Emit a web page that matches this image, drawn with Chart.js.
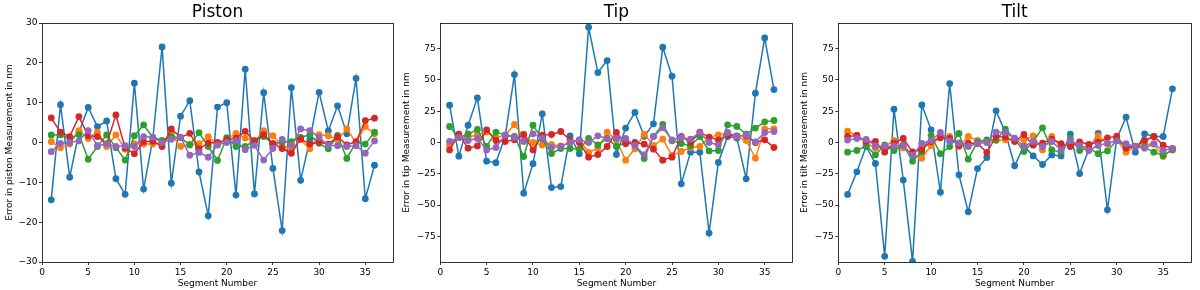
<!DOCTYPE html>
<html><head><meta charset="utf-8">
<script src="https://cdn.jsdelivr.net/npm/chart.js@4"></script>
<style>
body{margin:0;background:#fff;width:1200px;height:290px;overflow:hidden;position:relative}
canvas{position:absolute;top:0}
</style>
</head><body>
<canvas id="c1" width="400" height="290" style="left:0px"></canvas>
<canvas id="c2" width="400" height="290" style="left:397px"></canvas>
<canvas id="c3" width="405" height="290" style="left:795px"></canvas>
<script>
const segments = [1,2,3,4,5,6,7,8,9,10,11,12,13,14,15,16,17,18,19,20,21,22,23,24,25,26,27,28,29,30,31,32,33,34,35,36];
const xTicks = [0,5,10,15,20,25,30,35];
const pistonTicks = [-30,-20,-10,0,10,20,30];
const tipTicks = [-75,-50,-25,0,25,50,75];
const tiltTicks = [-75,-50,-25,0,25,50,75];

const pistonBlue   = [-14.4,9.5,-8.7,2.5,8.8,4.0,5.4,-9.1,-13.0,14.9,-11.7,1.0,24.0,-10.2,6.6,10.5,-7.4,-18.4,8.9,10.0,-13.2,18.4,-12.9,12.5,-6.5,-22.1,13.8,-9.5,0.7,12.6,2.9,9.2,2.2,16.1,-14.1,-5.7];
const pistonOrange = [0.2,-1.3,-0.4,3.0,1.0,2.6,-1.0,1.9,-1.7,-0.3,-0.4,-0.4,0.0,2.0,-1.0,-0.5,-0.3,1.5,-0.6,0.8,2.3,1.1,0.2,3.0,1.7,-0.8,-1.6,0.7,-1.6,2.0,1.7,0.7,3.4,0.0,4.0,2.2];
const pistonGreen  = [1.9,1.9,1.1,2.0,-4.2,-1.0,1.9,-1.3,-4.4,1.7,4.4,1.3,0.5,1.5,1.2,-0.6,2.5,-1.0,-4.5,1.2,-1.0,-1.0,0.5,1.5,-0.3,0.2,0.2,1.3,1.9,-0.2,-1.6,1.8,-4.0,0.1,-0.4,2.6];
const pistonRed    = [6.2,2.6,1.5,6.5,1.7,1.5,-0.3,6.9,-1.4,-2.8,0.2,0.3,-1.0,3.4,1.3,2.3,-1.6,-0.1,0.0,0.7,1.1,2.8,0.3,2.0,-0.3,-1.5,-2.7,0.9,-0.4,0.1,-0.4,1.4,-0.6,0.2,5.5,6.1];
const pistonPurple = [-2.3,-0.2,0.0,0.4,3.0,-0.8,-0.4,-1.0,-0.8,-1.0,1.5,1.3,0.0,0.8,1.3,-3.2,-2.5,-3.7,-0.6,0.0,0.4,-1.8,-0.7,-4.4,-1.5,0.8,-0.7,3.4,3.0,1.3,-0.7,-0.8,-1.0,-0.8,-2.7,0.4];

const tipBlue   = [29.8,-10.9,13.8,35.7,-14.9,-16.2,5.0,54.3,-40.5,-17.0,22.9,-36.0,-35.2,5.3,-9.0,92.1,55.9,65.5,-9.6,11.5,24.0,5.0,14.9,76.2,53.0,-33.0,-7.7,-7.7,-72.4,-16.0,4.8,3.5,-29.0,39.4,83.6,42.3];
const tipOrange = [-2.0,4.0,4.0,6.4,8.3,4.0,5.9,14.4,4.0,0.0,-1.9,-1.6,-2.7,0.0,2.1,-8.0,-4.5,8.3,2.0,-14.1,-5.0,6.7,-2.4,2.7,-10.4,-7.2,-4.0,-3.2,4.0,6.1,7.5,4.8,1.6,-12.5,10.9,10.9];
const tipGreen  = [12.8,4.0,6.7,10.4,-3.2,8.3,5.9,4.8,-11.2,13.8,2.7,-8.8,-4.8,-4.8,-5.3,3.2,-1.9,3.2,-3.2,0.0,-2.1,-12.8,4.8,14.4,1.3,-0.8,-2.7,4.8,-6.7,-6.4,14.1,12.8,6.7,11.5,16.5,17.6];
const tipRed    = [-5.9,6.7,-4.5,-2.7,10.1,1.6,0.8,2.1,6.4,-5.9,5.9,6.4,8.8,2.1,0.0,-11.7,-9.6,-3.2,8.0,-1.0,0.0,-1.3,-5.3,-14.1,-11.7,4.8,0.0,8.3,4.3,2.1,5.6,5.3,5.3,0.0,2.1,-4.0];
const tipPurple = [0.8,4.0,1.6,3.2,-5.9,-4.0,5.9,4.0,0.8,6.9,3.5,-4.0,-3.2,0.0,2.1,0.0,5.3,3.2,3.2,3.2,-2.4,-9.9,4.8,11.7,2.1,4.0,2.7,8.0,0.0,-1.9,8.0,4.8,5.9,0.5,8.0,8.8];

const tiltBlue   = [-41.5,-23.4,-3.2,-16.8,-91.0,26.6,-30.0,-95.0,30.0,10.1,-39.7,47.1,-25.8,-55.4,-20.8,-12.0,25.3,8.0,-18.6,-2.7,-10.7,-17.6,-9.9,-10.7,6.7,-24.8,-5.3,7.2,-53.8,3.0,20.2,-7.7,6.9,4.8,4.8,42.9];
const tiltOrange = [9.0,5.6,-0.5,-4.5,-3.2,1.6,-4.3,-9.0,-12.5,-2.4,4.8,4.8,-3.2,4.8,1.6,0.0,1.6,2.1,2.1,2.1,5.3,-5.9,4.8,-3.2,0.0,-2.1,-4.5,5.3,-1.3,2.1,-7.7,-3.2,-1.3,-1.3,-11.2,-5.0];
const tiltGreen  = [-7.7,-6.4,-2.7,-9.9,-1.9,-6.4,-1.9,-14.9,-7.5,5.6,-9.0,-3.2,7.2,-13.3,0.5,2.1,2.1,10.7,2.7,-7.2,0.8,11.7,-5.9,-7.7,3.5,-6.4,-4.5,-9.0,-6.7,1.6,-3.2,-3.2,-3.7,-7.7,-10.4,-5.9];
const tiltRed    = [4.8,5.6,0.8,0.8,-7.7,-0.5,3.2,-7.5,-5.6,0.8,3.7,3.2,-2.4,-0.5,-0.8,-8.0,4.8,4.3,0.8,6.4,-2.1,-0.5,2.7,-1.0,-3.2,0.5,-1.6,0.3,3.7,5.0,-4.5,-3.2,1.6,4.8,-2.1,-5.0];
const tiltPurple = [1.9,3.2,2.4,-2.7,-2.9,-2.7,-2.4,-10.4,-0.8,1.6,8.0,0.8,-0.3,-3.2,-0.8,0.0,8.3,8.0,3.5,-3.2,0.8,-3.2,0.8,-5.9,1.6,-2.4,-6.4,-2.4,-0.5,1.3,-1.0,-3.2,-4.5,-1.0,-6.4,-4.8];

const colors = ['#1f77b4','#ff7f0e','#2ca02c','#d62728','#9467bd'];
const FONT = '"DejaVu Sans", sans-serif';

const framePlugin = {
  id: 'frame',
  afterDraw(chart) {
    const {ctx, chartArea: a} = chart;
    ctx.save();
    ctx.strokeStyle = '#000';
    ctx.lineWidth = 0.8;
    ctx.strokeRect(Math.round(a.left)+0.5, Math.round(a.top)+0.5, Math.round(a.right-a.left), Math.round(a.bottom-a.top));
    ctx.restore();
  }
};

function fmt(v){ return v < 0 ? '\u2212' + Math.abs(v) : String(v); }

function makePanel(id, canvasLeft, canvasWidth, plotLeft, plotRight, title, ylabel, yMin, yMax, yTicks, series) {
  const datasets = series.map((vals, i) => ({
    data: segments.map((s, k) => ({x: s, y: vals[k]})),
    borderColor: colors[i],
    backgroundColor: colors[i],
    pointBackgroundColor: colors[i],
    pointBorderWidth: 0,
    pointRadius: 3.4,
    borderWidth: 1.5,
    tension: 0,
    clip: 0,
    order: 5 - i
  }));
  new Chart(document.getElementById(id), {
    type: 'line',
    data: {datasets},
    plugins: [framePlugin],
    options: {
      responsive: false,
      animation: false,
      events: [],
      layout: {padding: {left: 0, top: 0, bottom: 0, right: canvasWidth - (plotRight - canvasLeft)}},
      plugins: {
        legend: {display: false},
        tooltip: {enabled: false},
        title: {display: true, text: title, fullSize: false, color: '#000',
                font: {family: FONT, size: 17, weight: 'normal'}, padding: {top: 2, bottom: 0.6}}
      },
      scales: {
        x: {
          type: 'linear', min: 0, max: 38,
          afterBuildTicks: s => { s.ticks = xTicks.map(v => ({value: v})); },
          afterFit: s => { s.height = 28; },
          grid: {drawOnChartArea: false, drawTicks: true, tickLength: 3, color: '#000', lineWidth: 0.8},
          border: {display: false},
          ticks: {color: '#000', font: {family: FONT, size: 9}, padding: 2, maxRotation: 0, callback: fmt},
          title: {display: true, text: 'Segment Number', color: '#000', font: {family: FONT, size: 9}, padding: {top: 0, bottom: 0.6}}
        },
        y: {
          type: 'linear', min: yMin, max: yMax,
          afterBuildTicks: s => { s.ticks = yTicks.map(v => ({value: v})); },
          afterFit: s => { s.width = plotLeft - canvasLeft; },
          grid: {drawOnChartArea: false, drawTicks: true, tickLength: 3, color: '#000', lineWidth: 0.8},
          border: {display: false},
          ticks: {color: '#000', font: {family: FONT, size: 9}, padding: 1.5, callback: fmt},
          title: {display: true, text: ylabel, color: '#000', font: {family: FONT, size: 9}, padding: {top: 4, bottom: 0}}
        }
      }
    }
  });
}

makePanel('c1', 0, 400, 42, 393, 'Piston', 'Error in piston Measurement in nm', -30, 30, pistonTicks,
  [pistonBlue, pistonOrange, pistonGreen, pistonRed, pistonPurple]);
makePanel('c2', 397, 400, 440.3, 792.5, 'Tip', 'Error in tip Measurement in nm', -95.5, 95.5, tipTicks,
  [tipBlue, tipOrange, tipGreen, tipRed, tipPurple]);
makePanel('c3', 795, 405, 838.3, 1191, 'Tilt', 'Error in tilt Measurement in nm', -95.5, 95.5, tiltTicks,
  [tiltBlue, tiltOrange, tiltGreen, tiltRed, tiltPurple]);
</script>
</body></html>
